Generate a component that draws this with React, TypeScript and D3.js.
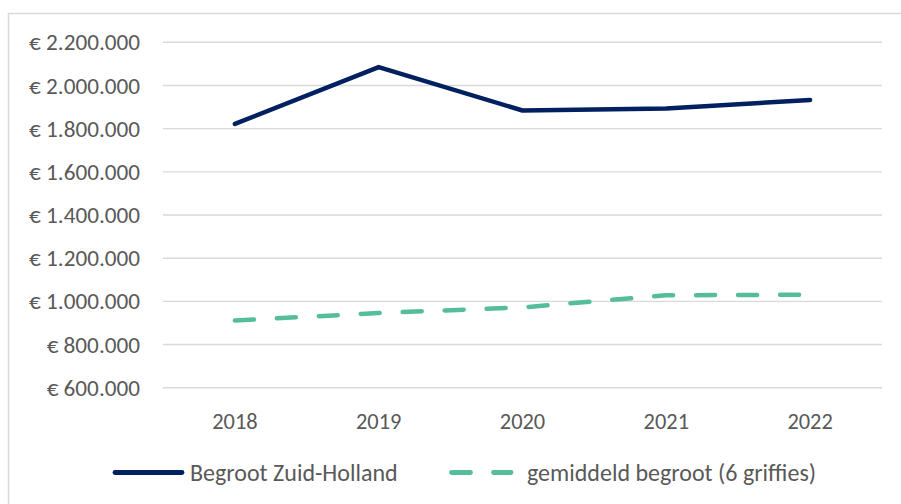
import React from "react";
import * as d3 from "d3";

const years = ["2018", "2019", "2020", "2021", "2022"];
const begrootZH = [1822000, 2085000, 1884000, 1893000, 1933000];
const gemiddeld = [911000, 946000, 972000, 1028000, 1031000];
const yTicks = [600000, 800000, 1000000, 1200000, 1400000, 1600000, 1800000, 2000000, 2200000];
const seriesNames = ["Begroot Zuid-Holland", "gemiddeld begroot (6 griffies)"];

const W = 901;
const H = 504;
const FONT = "Carlito, Lato, sans-serif";
const TEXT = "#595959";
const GRID = "#d9d9d9";
const NAVY = "#002060";
const GREEN = "#55bd9b";

const locale = d3.formatLocale({ decimal: ",", thousands: ".", grouping: [3], currency: ["€ ", ""] });
const fmt = locale.format("$,.0f");

export default function App() {
  const x = d3.scalePoint<string>().domain(years).range([163, 882]).padding(0.5);
  const y = d3.scaleLinear().domain([600000, 2200000]).range([387.7, 42.3]);

  const line = d3
    .line<number>()
    .x((_, i) => x(years[i]) as number)
    .y((d) => y(d));

  return (
    <svg
      width={W}
      height={H}
      style={{ position: "absolute", left: 0, top: 0, background: "#fff" }}
      fontFamily={FONT}
    >
      <rect x={8.5} y={13.5} width={W} height={H} fill="#fff" stroke={GRID} strokeWidth={1.5} />
      {yTicks.map((t) => (
        <g key={t}>
          <line x1={163} x2={882} y1={y(t)} y2={y(t)} stroke={GRID} strokeWidth={1.4} />
          <text x={140} y={y(t)} dy="0.35em" textAnchor="end" fontSize={23.2} fill={TEXT}>
            {fmt(t)}
          </text>
        </g>
      ))}
      {years.map((yr) => (
        <text key={yr} x={x(yr)} y={428.5} textAnchor="middle" fontSize={22.4} fill={TEXT}>
          {yr}
        </text>
      ))}
      <path
        d={line(gemiddeld) || ""}
        fill="none"
        stroke={GREEN}
        strokeWidth={4.5}
        strokeDasharray="19 23"
        strokeLinecap="round"
        strokeLinejoin="round"
      />
      <path
        d={line(begrootZH) || ""}
        fill="none"
        stroke={NAVY}
        strokeWidth={4.5}
        strokeLinecap="round"
        strokeLinejoin="round"
      />
      {/* legend */}
      <line x1={115} x2={182} y1={472.5} y2={472.5} stroke={NAVY} strokeWidth={4.8} strokeLinecap="round" />
      <text x={190} y={472.5} dy="0.35em" fontSize={24} fill={TEXT}>
        {seriesNames[0]}
      </text>
      <line
        x1={451.5}
        x2={511}
        y1={472.5}
        y2={472.5}
        stroke={GREEN}
        strokeWidth={4.8}
        strokeDasharray="19 23"
        strokeLinecap="round"
      />
      <text x={527} y={472.5} dy="0.35em" fontSize={24} fill={TEXT}>
        {seriesNames[1]}
      </text>
    </svg>
  );
}
